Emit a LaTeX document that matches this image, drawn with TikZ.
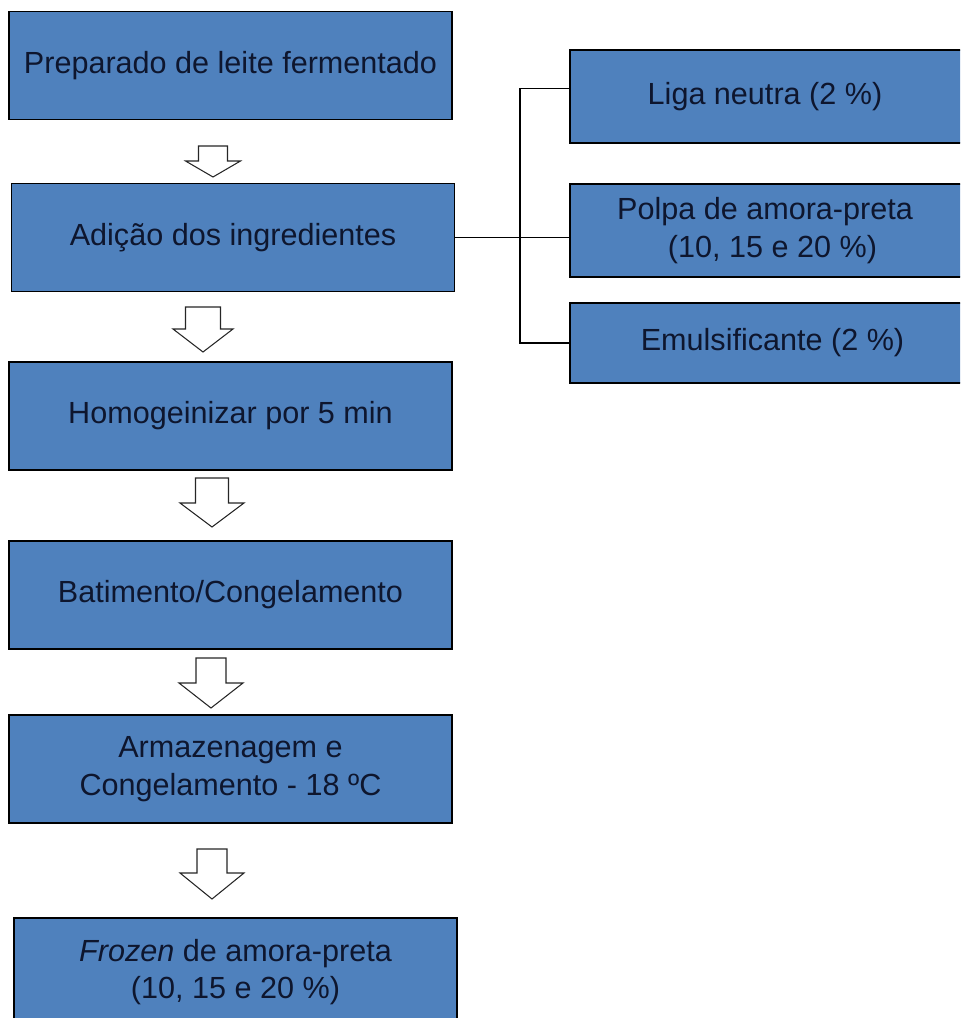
\documentclass[tikz,border=0pt]{standalone}
\usepackage{fontspec}
\setmainfont{Liberation Sans}
\usetikzlibrary{calc}
\definecolor{caixaazul}{RGB}{79,129,189}
\definecolor{textoazul}{RGB}{14,22,46}
\begin{document}
\begin{tikzpicture}[every node/.style={font=\fontsize{17.4}{21.5}\selectfont, text=textoazul},
    etapa/.style={rectangle, draw=black, line width=1pt, fill=caixaazul, minimum width=8.86cm, minimum height=2.16cm, align=center, inner sep=0pt},
    insumo/.style={rectangle, draw=black, line width=1pt, fill=caixaazul, minimum width=8.2cm, align=center, inner sep=0pt},
    linha/.style={draw=black, line width=0.8pt},
    seta/.style={draw=black!85, line width=0.6pt, fill=white, line join=miter}]

    \useasboundingbox[clip] (0,0) rectangle (19.2,-20.36);

    % Etapas do processo
    \node (prep) [etapa] at (4.61,-1.31) {Preparado de leite fermentado};
    \node (adicao) [etapa] at (4.66,-4.75) {Adição dos ingredientes};
    \node (homog) [etapa] at (4.61,-8.32) {Homogeinizar por 5 min};
    \node (batim) [etapa] at (4.61,-11.90) {Batimento/Congelamento};
    \node (armaz) [etapa] at (4.61,-15.38) {Armazenagem e\\Congelamento - 18 ºC};
    \node (frozen) [etapa] at (4.71,-19.44) {\textit{Frozen} de amora-preta\\(10, 15 e 20 \%)};

    % Ingredientes adicionados
    \node (liga) [insumo, minimum height=1.86cm] at (15.5,-1.93) {Liga neutra (2 \%)\hspace*{0.4cm}};
    \node (polpa) [insumo, minimum height=1.86cm] at (15.5,-4.61) {Polpa de amora-preta\hspace*{0.4cm}\\(10, 15 e 20 \%)\hspace*{0.1cm}};
    \node (emul) [insumo, minimum height=1.60cm] at (15.5,-6.86) {Emulsificante (2 \%)\hspace*{0.1cm}};

    % Ligacao dos ingredientes
    \coordinate (ramo) at (10.4,-1.77);
    \draw[linha] (ramo -| liga.west) -- (ramo) |- (emul.west);
    \draw[linha] (adicao.east) -- (adicao.east -| polpa.west);

    % Setas entre as etapas
    \foreach \cx/\ty/\by/\s/\h/\hl in {4.26/-2.92/-3.54/0.29/0.55/0.32,
                                      4.06/-6.14/-7.04/0.35/0.60/0.46,
                                      4.24/-9.56/-10.54/0.33/0.64/0.48,
                                      4.22/-13.16/-14.16/0.30/0.64/0.50,
                                      4.24/-16.98/-17.98/0.30/0.64/0.52}
      \draw[seta] (\cx-\s,\ty) -- (\cx+\s,\ty) -- (\cx+\s,\by+\hl) -- (\cx+\h,\by+\hl)
        -- (\cx,\by) -- (\cx-\h,\by+\hl) -- (\cx-\s,\by+\hl) -- cycle;

\end{tikzpicture}
\end{document}
